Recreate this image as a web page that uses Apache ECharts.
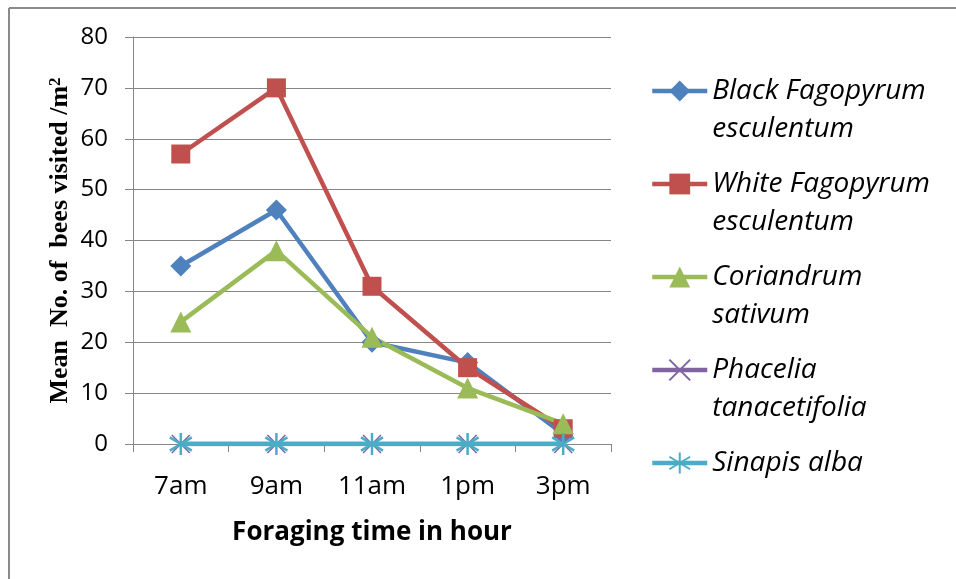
<!DOCTYPE html>
<html>
<head>
<meta charset="utf-8">
<script src="https://cdn.jsdelivr.net/npm/echarts@6/dist/echarts.min.js"></script>
<style>
  html, body { margin: 0; padding: 0; background: #fff; }
  #chart { width: 956px; height: 579px; }
</style>
</head>
<body>
<div id="chart"></div>
<script>
// Foraging times along the x axis
const hours = ['7am', '9am', '11am', '1pm', '3pm'];

// Mean number of bees visited per m² for each crop
const blackFagopyrum = [35, 46, 20, 16, 2];
const whiteFagopyrum = [57, 70, 31, 15, 3];
const coriandrum = [24, 38, 21, 11, 4];
const phacelia = [0, 0, 0, 0, 0];
const sinapis = [0, 0, 0, 0, 0];

// Y axis ticks
const yTicks = [0, 10, 20, 30, 40, 50, 60, 70, 80];

const seriesNames = [
  'Black Fagopyrum\nesculentum',
  'White Fagopyrum\nesculentum',
  'Coriandrum\nsativum',
  'Phacelia\ntanacetifolia',
  'Sinapis alba'
];

const LH = 38;
const starPath = 'path://M0,-10L0,10M-9,-6L9,6M-9,6L9,-6';
const crossPath = 'path://M-9,-7L9,7M-9,7L9,-7';

function lineSeries(name, data, color, symbol, size, extra) {
  return Object.assign({
    name: name,
    type: 'line',
    data: data,
    symbol: symbol,
    symbolSize: size,
    lineStyle: { color: color, width: 4.5 },
    itemStyle: { color: color },
    emphasis: { disabled: true },
    animation: false
  }, extra || {});
}

const chart = echarts.init(document.getElementById('chart'), null, { renderer: 'canvas' });

chart.setOption({
  animation: false,
  backgroundColor: '#ffffff',
  grid: { left: 133, right: 345, top: 37, bottom: 135 },
  xAxis: {
    type: 'category',
    data: hours,
    boundaryGap: true,
    axisLine: { lineStyle: { color: '#868686', width: 1 } },
    axisTick: { show: true, length: 8, lineStyle: { color: '#868686' } },
    axisLabel: { color: '#000', fontFamily: 'Open Sans', fontSize: 26, margin: 30 },
    name: 'Foraging time in hour',
    nameLocation: 'middle',
    nameGap: 76,
    nameTextStyle: { color: '#000', fontFamily: 'Open Sans', fontWeight: 'bold', fontSize: 26 }
  },
  yAxis: {
    type: 'value',
    min: yTicks[0],
    max: yTicks[yTicks.length - 1],
    interval: 10,
    axisLine: { show: true, lineStyle: { color: '#868686', width: 1 } },
    axisTick: { show: true, length: 8, lineStyle: { color: '#868686' } },
    splitLine: { lineStyle: { color: '#868686', width: 1 } },
    axisLabel: { color: '#000', fontFamily: 'Open Sans', fontSize: 24, margin: 25 },
    name: '{a|Mean  No. of  bees visited /m}{b|2}',
    nameLocation: 'middle',
    nameRotate: 90,
    nameGap: 60,
    nameTextStyle: {
      color: '#000',
      rich: {
        a: { fontFamily: 'Liberation Serif', fontWeight: 'bold', fontSize: 26, color: '#000' },
        b: { fontFamily: 'Liberation Serif', fontWeight: 'bold', fontSize: 17, color: '#000', verticalAlign: 'top', padding: [0, 0, 8, 0] }
      }
    }
  },
  legend: {
    orient: 'vertical',
    left: 650,
    top: 34,
    padding: 0,
    itemWidth: 55,
    itemHeight: 26,
    itemGap: -21,
    selectedMode: false,
    lineStyle: { width: 4.5 },
    // a blank leading line keeps the marker level with each name's first line
    formatter: function (name) {
      return name.indexOf('\n') >= 0 ? ' \n' + name : ' \n' + name + '\n ';
    },
    textStyle: {
      color: '#000',
      fontFamily: 'Open Sans',
      fontStyle: 'italic',
      fontSize: 28,
      lineHeight: LH
    },
    data: seriesNames
  },
  series: [
    lineSeries(seriesNames[0], blackFagopyrum, '#4F81BD', 'diamond', 21),
    lineSeries(seriesNames[1], whiteFagopyrum, '#C0504D', 'rect', 19),
    lineSeries(seriesNames[2], coriandrum, '#9BBB59', 'triangle', 21),
    lineSeries(seriesNames[3], phacelia, '#8064A2', crossPath, 18,
      { itemStyle: { color: '#8064A2', borderColor: '#8064A2', borderWidth: 1.5 } }),
    lineSeries(seriesNames[4], sinapis, '#4BACC6', starPath, 22,
      { itemStyle: { color: '#4BACC6', borderColor: '#4BACC6', borderWidth: 2.5 } })
  ],
  graphic: [
    { type: 'line', silent: true, shape: { x1: 9, y1: 8, x2: 956, y2: 8 }, style: { stroke: '#8a8a8a', lineWidth: 2 } },
    { type: 'line', silent: true, shape: { x1: 9, y1: 8, x2: 9, y2: 579 }, style: { stroke: '#8a8a8a', lineWidth: 2 } }
  ]
});
</script>
</body>
</html>
